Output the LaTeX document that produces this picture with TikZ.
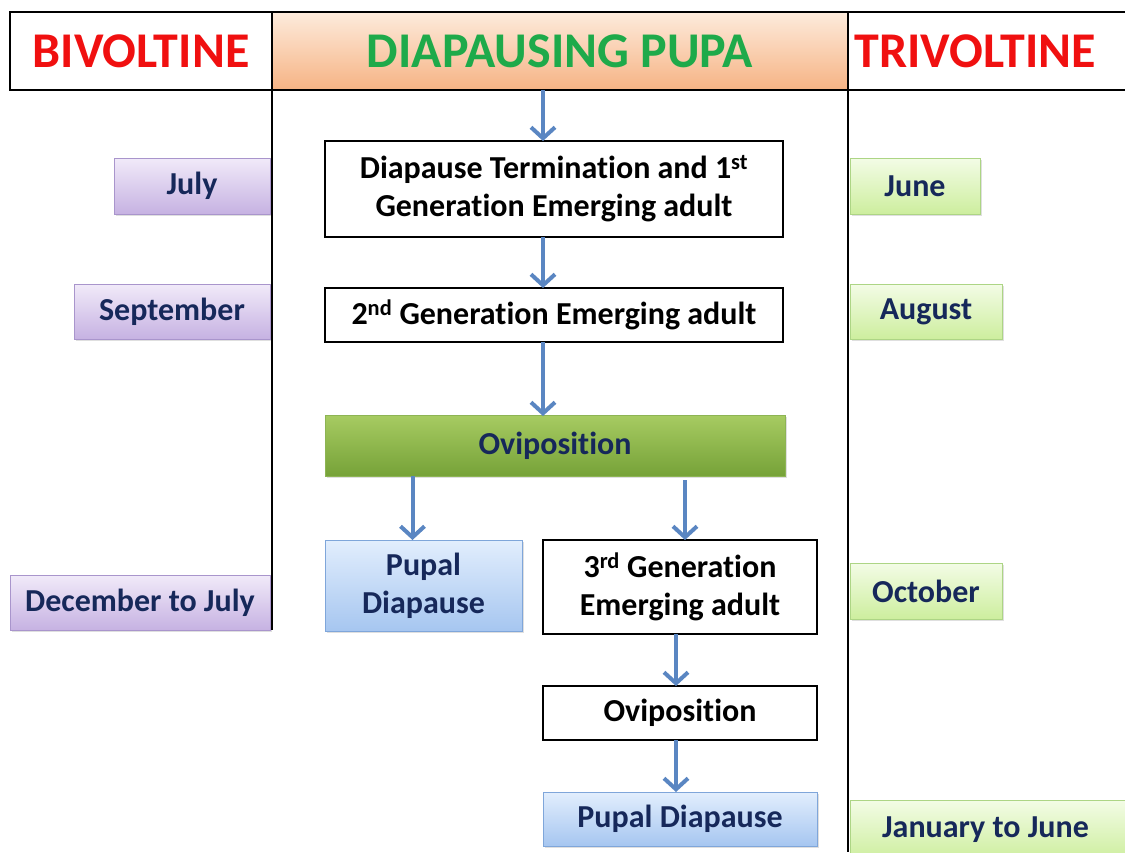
\documentclass[tikz,border=0pt]{standalone}
\usepackage{fontspec}
\setmainfont{Carlito}[Ligatures={NoCommon}]
\usetikzlibrary{arrows.meta,shadows}
\definecolor{navy}{HTML}{16285A}
\definecolor{hred}{HTML}{F01010}
\definecolor{hgreen}{HTML}{1EAA4A}
\definecolor{arr}{HTML}{5A86C2}
\definecolor{purT}{HTML}{F1EAF9}
\definecolor{purB}{HTML}{C6B2E2}
\definecolor{purD}{HTML}{A995CC}
\definecolor{grnT}{HTML}{F3FCE6}
\definecolor{grnB}{HTML}{CDEE9E}
\definecolor{grnD}{HTML}{ADD585}
\definecolor{bluT}{HTML}{E2EEFD}
\definecolor{bluB}{HTML}{A6C6F0}
\definecolor{bluD}{HTML}{7FA6DA}
\definecolor{oviT}{HTML}{A7CB62}
\definecolor{oviB}{HTML}{76A238}
\definecolor{oviD}{HTML}{8DB454}
\definecolor{orT}{HTML}{FDEBDC}
\definecolor{orB}{HTML}{F6B384}
\tikzset{
  box/.style={rectangle,inner sep=0pt,outer sep=0pt,align=center,font=\bfseries\fontsize{32}{38}\selectfont},
  whitebox/.style={box,draw=black,line width=2.6pt,fill=white,text=black},
  shade/.style={drop shadow={opacity=0.25,shadow xshift=2pt,shadow yshift=-2pt}},
  purplebox/.style={box,draw=purD,line width=1pt,top color=purT,bottom color=purB,text=navy,shade},
  greenbox/.style={box,draw=grnD,line width=1pt,top color=grnT,bottom color=grnB,text=navy,shade},
  bluebox/.style={box,draw=bluD,line width=1pt,top color=bluT,bottom color=bluB,text=navy,shade},
  ovibox/.style={box,draw=oviD,line width=1pt,top color=oviT,bottom color=oviB,text=navy,shade},
  header/.style={box,draw=black,line width=2.6pt,font=\bfseries\fontsize{50}{56}\selectfont},
  flow/.style={draw=arr,line width=4pt,-{Straight Barb[length=11pt,width=24pt]}},
  divider/.style={draw=black,line width=2.6pt}
}
\newcommand{\bx}[6]{\node[#1,minimum width={#4-#2},minimum height={#5-#3}] (#6) at ({(#2+#4)/2},{(#3+#5)/2})}
\begin{document}
\begin{tikzpicture}[x=1pt,y=-1pt]
\useasboundingbox (0,0) rectangle (1125,852);
% header
\bx{header,text=hred}{10}{12}{272}{90}{biv} {BIVOLTINE};
\bx{header,text=hgreen,top color=orT,bottom color=orB}{272}{12}{848}{90}{pupa} {DIAPAUSING PUPA};
\bx{header,text=hred}{848}{12}{1135}{90}{triv} {\hspace*{-32pt}TRIVOLTINE};
% left months
\bx{purplebox}{114}{158}{270}{214}{jul} {July};
\bx{purplebox}{74}{284}{270}{339}{sep} {September};
\bx{purplebox}{10}{575}{270}{630}{dec} {December to July};
% right months
\bx{greenbox}{850}{158}{980}{214}{jun} {June};
\bx{greenbox}{850}{284}{1002}{339}{aug} {August};
\bx{greenbox}{850}{563}{1002}{619}{oct} {October};
\bx{greenbox}{850}{800}{1135}{860}{jan} {\hspace*{-14pt}January to June};
% dividers
\coordinate (ltop) at (272,90);
\coordinate (lbot) at (272,630);
\coordinate (rtop) at (848,90);
\coordinate (rbot) at (848,852);
\draw[divider] (ltop) -- (lbot);
\draw[divider] (rtop) -- (rbot);
% center flow
\bx{whitebox}{325}{141}{783}{237}{b1} {Diapause Termination and 1\textsuperscript{st}\\Generation Emerging adult};
\bx{whitebox}{325}{288}{783}{342}{b2} {2\textsuperscript{nd} Generation Emerging adult};
\bx{ovibox}{325}{415}{785}{476}{ovi} {Oviposition};
\bx{bluebox}{325}{540}{522}{631}{pd1} {Pupal\\Diapause};
\bx{whitebox}{543}{540}{817}{634}{g3} {3\textsuperscript{rd} Generation\\Emerging adult};
\bx{whitebox}{543}{686}{817}{740}{ovi2} {Oviposition};
\bx{bluebox}{543}{792}{817}{846}{pd2} {Pupal Diapause};
% arrows
\draw[flow] ([xshift=-11pt]b1.north |- pupa.south) -- ([xshift=-11pt]b1.north);
\draw[flow] ([xshift=-11pt]b1.south) -- ([xshift=-11pt]b2.north);
\draw[flow] ([xshift=-11pt]b2.south) -- ([xshift=-11pt,yshift=-1pt]ovi.north -| b2.south);
\draw[flow] ([xshift=-11pt]pd1.north |- ovi.south) -- ([xshift=-11pt]pd1.north);
\draw[flow] ([xshift=5pt,yshift=-4pt]g3.north |- ovi.south) -- ([xshift=5pt]g3.north);
\draw[flow] ([xshift=-4pt]g3.south) -- ([xshift=-4pt]ovi2.north);
\draw[flow] ([xshift=-4pt]ovi2.south) -- ([xshift=-4pt]pd2.north);
\end{tikzpicture}
\end{document}
